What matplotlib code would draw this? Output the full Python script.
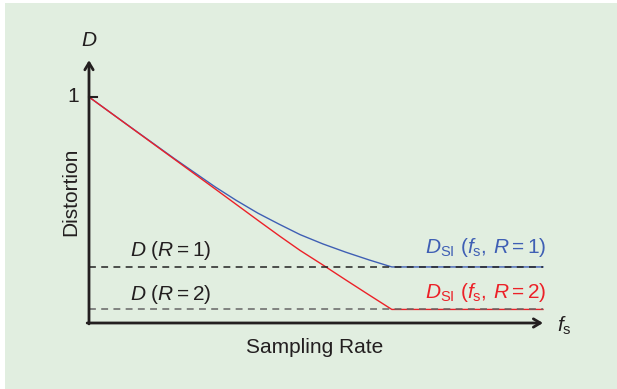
import matplotlib

matplotlib.use("Agg")
import matplotlib.pyplot as plt
from matplotlib.patches import Rectangle

plt.rcParams["font.family"] = ["Liberation Sans", "DejaVu Sans"]
plt.rcParams["mathtext.fontset"] = "custom"
plt.rcParams["mathtext.rm"] = "Liberation Sans"
plt.rcParams["mathtext.it"] = "Liberation Sans:italic"
plt.rcParams["mathtext.sf"] = "Liberation Sans"

# normalised sampling rate vs distortion
blue_fs = [0.0, 0.090, 0.189, 0.278, 0.324, 0.372, 0.419, 0.465, 0.515, 0.566, 0.617, 0.667, 1.0]
blue_d = [1.0, 0.869, 0.726, 0.602, 0.543, 0.486, 0.437, 0.391, 0.350, 0.313, 0.279, 0.248, 0.248]
red_fs = [0.0, 0.278, 0.377, 0.421, 0.465, 0.515, 0.566, 0.617, 0.667, 1.0]
red_d = [1.0, 0.593, 0.447, 0.383, 0.321, 0.257, 0.190, 0.124, 0.060, 0.060]
d_r1 = 0.248
d_r2 = 0.060

TEXT = "#231f20"
BLUE = "#3f5fb4"
RED = "#ec2128"
BG = "#e1eee0"

W, H = 617, 389
fig = plt.figure(figsize=(W / 100, H / 100), dpi=100)
fig.patch.set_facecolor("white")
fig.add_artist(Rectangle((5 / W, 0), 1 - 5 / W, 1 - 3 / H, transform=fig.transFigure,
                         facecolor=BG, edgecolor="none", zorder=0))

ax = fig.add_axes([89 / W, (H - 323) / H, 454 / W, 226 / H])
ax.set_facecolor("none")
ax.set_xlim(0, 1)
ax.set_ylim(0, 1)
for s in ax.spines.values():
    s.set_visible(False)
ax.set_xticks([])
ax.set_yticks([])

# curves
ax.plot(blue_fs, blue_d, color=BLUE, lw=1.0, clip_on=False, zorder=3)
ax.plot(red_fs, red_d, color=RED, lw=1.0, clip_on=False, zorder=3)

# dashed limits
ax.plot([0, 1], [d_r1, d_r1], color="#222222", lw=1.1, dashes=(4.5, 3.5), zorder=4)
ax.plot([0, 1], [d_r2, d_r2], color="#666666", lw=1.1, dashes=(4.5, 3.5), zorder=4)

# axes with arrows
arrow = dict(arrowstyle="->,head_length=0.5,head_width=0.3", color=TEXT, lw=2.0,
             shrinkA=0, shrinkB=0)
ax.annotate("", xy=(0, 1.163), xytext=(0, -0.004), arrowprops=arrow,
            annotation_clip=False, zorder=5)
ax.annotate("", xy=(1.0, 0), xytext=(-0.004, 0), arrowprops=arrow,
            annotation_clip=False, zorder=5)
ax.plot([0, 0.018], [1, 1], color=TEXT, lw=1.5, clip_on=False, zorder=5)

fs = 15
ax.text(0, 1.248, "$D$", ha="center", va="center", fontsize=fs, color=TEXT)
ax.text(-0.022, 1.0, "1", ha="right", va="center", fontsize=fs, color=TEXT)
ax.text(-0.041, 0.58, "Distortion", rotation=90, ha="center", va="center",
        fontsize=fs, color=TEXT)
ax.text(0.496, -0.133, "Sampling Rate", ha="center", va="baseline", fontsize=fs, color=TEXT)
ax.text(1.031, -0.04, r"$f_{\mathrm{s}}$", ha="left", va="baseline", fontsize=fs, color=TEXT)

ax.text(0.090, 0.296, r"$D\ (R = 1)$", ha="left", va="baseline", fontsize=fs, color=TEXT)
ax.text(0.090, 0.102, r"$D\ (R = 2)$", ha="left", va="baseline", fontsize=fs, color=TEXT)
ax.text(1.007, 0.31, r"$D_{\mathrm{SI}}\ (f_{\mathrm{s}},\,R = 1)$", ha="right",
        va="baseline", fontsize=fs, color=BLUE)
ax.text(1.007, 0.111, r"$D_{\mathrm{SI}}\ (f_{\mathrm{s}},\,R = 2)$", ha="right",
        va="baseline", fontsize=fs, color=RED)

fig.savefig("out.png", dpi=100)
